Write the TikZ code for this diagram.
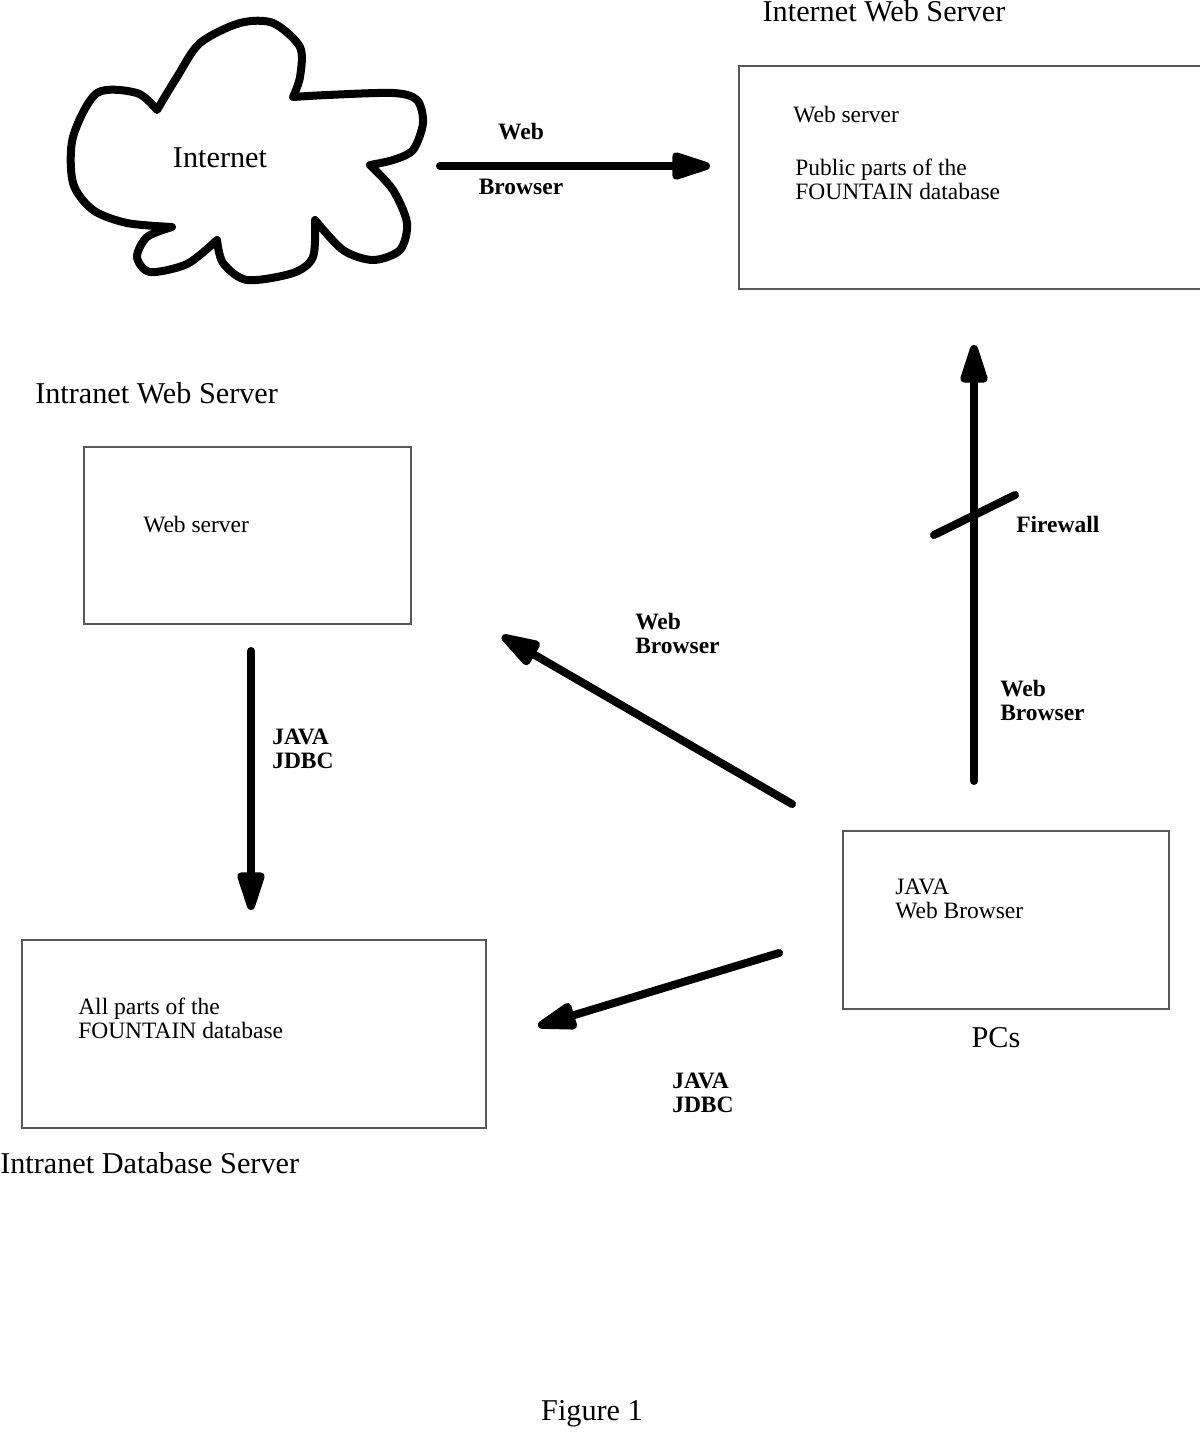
\documentclass[tikz,border=0pt]{standalone}
\usepackage{fontspec}
\setmainfont{Liberation Serif}
\usetikzlibrary{arrows.meta}

\begin{document}
\begin{tikzpicture}[x=0.025cm, y=-0.025cm,
    box/.style = {draw=black!65, line width=0.04cm, inner sep=0, anchor=north west},
    big/.style = {font=\fontsize{21.5}{24}\selectfont, inner sep=0},
    small/.style = {font=\fontsize{16.7}{17}\selectfont, inner sep=0, anchor=base west, align=left},
    lbl/.style = {font=\fontsize{16.7}{17}\selectfont\bfseries, inner sep=0, anchor=base west, align=left},
    link/.style = {line width=0.2cm, line cap=round, -{Triangle[length=1.2cm, width=0.7cm, round]}},
    cloudline/.style = {line width=0.2cm, line cap=round, line join=round}]
    \clip (0,0) rectangle (1200,1449);

    % the cloud
    \draw[cloudline] plot[smooth] coordinates {(293,97) (300,77) (300,47) (273,23) (240,23) (200,43) (177,77) (157,110)}
        -- plot[smooth] coordinates {(157,110) (137,93) (97,93) (73,137) (73,183) (93,210) (127,223) (172,227)}
        -- plot[smooth] coordinates {(172,227) (147,237) (137,257) (150,272) (187,264) (217,240)}
        -- plot[smooth] coordinates {(217,240) (223,263) (247,280) (293,273) (313,257) (315,220)}
        -- plot[smooth] coordinates {(315,220) (343,250) (373,260) (400,250) (407,223) (393,190) (370,165)}
        -- plot[smooth] coordinates {(370,165) (393,160) (413,150) (423,123) (417,100) (393,93) (327,95) (293,97)};
    \node[big, anchor=base] (inet) at (220,167) {Internet};

    % boxes
    \node[box, minimum width=11.7cm, minimum height=5.575cm] (pub) at (738,65) {};
    \node[big, anchor=base] (pubt) at (884,21) {Internet Web Server};
    \node[small] (pub1) at (793,122) {Web server};
    \node[small] (pub2) at (795,199) {Public parts of the\\FOUNTAIN database};

    \node[box, minimum width=8.175cm, minimum height=4.425cm] (intra) at (83,446) {};
    \node[big, anchor=base west] (intrat) at (35,403) {Intranet Web Server};
    \node[small] (intra1) at (143,532) {Web server};

    \node[box, minimum width=11.6cm, minimum height=4.7cm] (db) at (21,939) {};
    \node[big, anchor=base west] (dbt) at (0,1173) {Intranet Database Server};
    \node[small] (db1) at (78,1038) {All parts of the\\FOUNTAIN database};

    \node[box, minimum width=8.15cm, minimum height=4.45cm] (pc) at (842,830) {};
    \node[big, anchor=base] (pct) at (996,1047) {PCs};
    \node[small] (pc1) at (895,918) {JAVA\\Web Browser};

    % arrow ends
    \coordinate (a1) at (440,166);  \coordinate (a2) at (710,166);
    \coordinate (b1) at (974,781);  \coordinate (b2) at (974,345);
    \coordinate (c1) at (792,804);  \coordinate (c2) at (502,636);
    \coordinate (d1) at (779,953);  \coordinate (d2) at (538,1026);
    \coordinate (e1) at (251,651);  \coordinate (e2) at (251,910);
    \coordinate (fw1) at (934,535); \coordinate (fw2) at (1015,495);

    \draw[link] (a1) to node[lbl, pos=0.3, anchor=south, above=0.55cm] {Web}
                       node[lbl, pos=0.3, anchor=north, below=0.23cm] {Browser} (a2);
    \draw[link] (b1) -- (b2);
    \draw[cloudline] (fw1) -- (fw2);
    \draw[link] (c1) -- (c2);
    \draw[link] (d1) -- (d2);
    \draw[link] (e1) -- (e2);

    \node[lbl] (fwl) at (1016,532) {Firewall};
    \node[lbl] (bl) at (1000,720) {Web\\Browser};
    \node[lbl] (cl) at (635,653) {Web\\Browser};
    \node[lbl] (dl) at (672,1112) {JAVA\\JDBC};
    \node[lbl] (el) at (272,768) {JAVA\\JDBC};

    \node[big, anchor=base] (fig) at (592,1420) {Figure 1};
\end{tikzpicture}
\end{document}
